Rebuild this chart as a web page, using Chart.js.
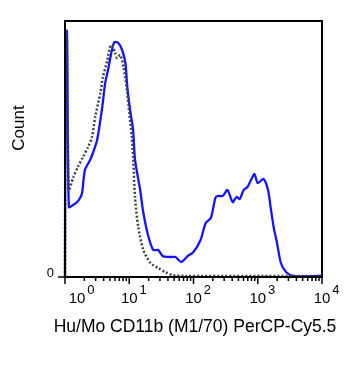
<!DOCTYPE html>
<html>
<head>
<meta charset="utf-8">
<script src="https://cdn.jsdelivr.net/npm/chart.js@4/dist/chart.umd.min.js"></script>
<style>
  html, body { margin: 0; padding: 0; background: #ffffff; }
  #wrap { width: 362px; height: 365px; }
</style>
</head>
<body>
<div id="wrap"><canvas id="c" width="362" height="365"></canvas></div>
<script>
// x positions are log10 of fluorescence (decades), y are counts (relative)
const blueLog = [0.0, 0.01, 0.03, 0.06, 0.125, 0.19, 0.234, 0.266, 0.31, 0.39, 0.44, 0.5, 0.58, 0.625, 0.67, 0.73, 0.77, 0.83, 0.89, 0.94, 0.97, 1.02, 1.06, 1.09, 1.17, 1.22, 1.3, 1.375, 1.45, 1.52, 1.64, 1.72, 1.81, 1.91, 2.0, 2.11, 2.19, 2.27, 2.34, 2.375, 2.45, 2.48, 2.53, 2.61, 2.67, 2.72, 2.78, 2.84, 2.91, 2.95, 3.0, 3.09, 3.16, 3.2, 3.25, 3.3, 3.36, 3.44, 3.55, 4.0];
const blueCount = [0, 246, 246, 70, 72, 75, 79, 84, 107, 117, 125, 137, 170, 194, 207, 227, 235, 234, 227, 214, 190, 164, 147, 117, 87, 64, 40, 27, 27, 21, 20, 20, 15, 21, 25, 37, 54, 59, 79, 81, 81, 83, 87, 75, 80, 78, 87, 90, 99, 103, 94, 98, 87, 70, 49, 34, 14, 5, 1, 1];

const dottedLog = [0.0, 0.01, 0.03, 0.06, 0.125, 0.2, 0.28, 0.36, 0.42, 0.47, 0.55, 0.59, 0.66, 0.7, 0.73, 0.78, 0.81, 0.86, 0.91, 0.97, 1.0, 1.04, 1.06, 1.09, 1.14, 1.22, 1.33, 1.45, 1.56, 1.67, 1.88, 4.0];
const dottedCount = [0, 246, 246, 87, 99, 110, 120, 130, 140, 160, 184, 200, 217, 230, 232, 224, 219, 222, 210, 184, 164, 140, 120, 80, 50, 27, 14, 9, 5, 2, 1, 1];

const decadeTicks = [0, 1, 2, 3, 4];
const decadeLabels = ['0', '1', '2', '3', '4'];
const yTicks = [0];
const yTickLabels = ['0'];
const xTitle = 'Hu/Mo CD11b (M1/70) PerCP-Cy5.5';
const yTitle = 'Count';

const FONT = '"Liberation Sans", Arial, sans-serif';

const axesPlugin = {
  id: 'flowAxes',
  afterDraw(chart) {
    const ctx = chart.ctx;
    const xs = chart.scales.x, ys = chart.scales.y;
    const a = chart.chartArea;
    ctx.save();
    // frame
    ctx.strokeStyle = '#000';
    ctx.lineWidth = 2;
    ctx.strokeRect(a.left, a.top, a.right - a.left, a.bottom - a.top);
    // y tick(s)
    ctx.lineWidth = 1.5;
    yTicks.forEach((v, i) => {
      const py = ys.getPixelForValue(v);
      ctx.beginPath();
      ctx.moveTo(a.left - 7, py);
      ctx.lineTo(a.left, py);
      ctx.stroke();
      ctx.fillStyle = '#000';
      ctx.font = '13px ' + FONT;
      ctx.textAlign = 'right';
      ctx.textBaseline = 'alphabetic';
      ctx.fillText(yTickLabels[i], a.left - 11, py);
    });
    // x ticks: majors and minors
    ctx.lineWidth = 1.5;
    decadeTicks.forEach((d, i) => {
      const px = xs.getPixelForValue(d);
      ctx.beginPath();
      ctx.moveTo(px, a.bottom);
      ctx.lineTo(px, a.bottom + 7);
      ctx.stroke();
      if (i < decadeTicks.length - 1) {
        for (let m = 2; m <= 9; m++) {
          const mx = xs.getPixelForValue(d + Math.log10(m));
          ctx.beginPath();
          ctx.moveTo(mx, a.bottom);
          ctx.lineTo(mx, a.bottom + 4);
          ctx.stroke();
        }
      }
      // label 10^d
      const cx = Math.max(px, a.left + 12);
      ctx.fillStyle = '#000';
      ctx.font = '15px ' + FONT;
      ctx.textAlign = 'center';
      ctx.textBaseline = 'alphabetic';
      ctx.fillText('10', cx, a.bottom + 26);
      const w = ctx.measureText('10').width;
      ctx.font = '13px ' + FONT;
      ctx.textAlign = 'left';
      ctx.fillText(decadeLabels[i], cx + w / 2 + 2, a.bottom + 17);
    });
    // titles
    ctx.fillStyle = '#000';
    ctx.font = '17.5px ' + FONT;
    ctx.textAlign = 'center';
    ctx.textBaseline = 'alphabetic';
    ctx.fillText(xTitle, 195, 332);
    ctx.save();
    ctx.translate(24, 128);
    ctx.rotate(-Math.PI / 2);
    ctx.font = '17px ' + FONT;
    ctx.fillText(yTitle, 0, 0);
    ctx.restore();
    ctx.restore();
  }
};

const toPts = (xsArr, ysArr) => xsArr.map((x, i) => ({ x: x, y: ysArr[i] }));

new Chart(document.getElementById('c'), {
  type: 'line',
  data: {
    datasets: [
      {
        label: 'Control',
        data: toPts(dottedLog, dottedCount),
        borderColor: '#3a4646',
        borderWidth: 2.5,
        borderDash: [2, 2],
        pointRadius: 0,
        tension: 0.25,
        fill: false,
        clip: false
      },
      {
        label: 'CD11b',
        data: toPts(blueLog, blueCount),
        borderColor: '#1414ff',
        borderWidth: 2.3,
        pointRadius: 0,
        tension: 0.25,
        fill: false,
        clip: false
      }
    ]
  },
  options: {
    responsive: false,
    animation: false,
    devicePixelRatio: 1,
    layout: { padding: { left: 65, right: 40, top: 21, bottom: 88 } },
    plugins: { legend: { display: false }, tooltip: { enabled: false }, title: { display: false } },
    scales: {
      x: { type: 'linear', min: 0, max: 4, display: false },
      y: { type: 'linear', min: 0, max: 256, display: false }
    }
  },
  plugins: [axesPlugin]
});
</script>
</body>
</html>
